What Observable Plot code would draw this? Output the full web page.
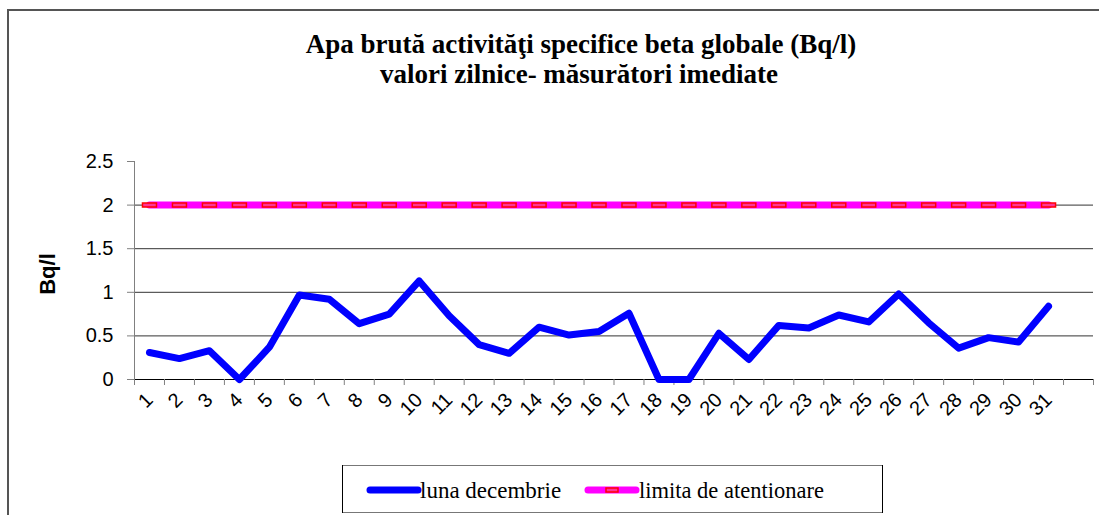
<!DOCTYPE html>
<html><head><meta charset="utf-8">
<script src="https://cdn.jsdelivr.net/npm/d3@7"></script>
<script src="https://cdn.jsdelivr.net/npm/@observablehq/plot@0.6"></script>
<style>
body{margin:0;background:#fff;}
#wrap{position:relative;width:1099px;height:515px;overflow:hidden;background:#fff;}
#chart{position:absolute;left:0;top:0;}
#chart svg text{font-family:"Liberation Sans",Arial,sans-serif;font-size:20px;}
#over{position:absolute;left:0;top:0;pointer-events:none;}
.serif{font-family:"Liberation Serif","Times New Roman",serif;}
.sans{font-family:"Liberation Sans",Arial,sans-serif;}
</style></head><body>
<div id="wrap"><div id="chart"></div>
<svg id="over" width="1099" height="515" xmlns="http://www.w3.org/2000/svg">
  <path d="M8,600 L8,10 L1200,10" fill="none" stroke="#555" stroke-width="2"/>
  <text class="serif" x="581" y="53" text-anchor="middle" font-weight="bold" font-size="27">Apa brută activităţi specifice beta globale (Bq/l)</text>
  <text class="serif" x="579" y="83" text-anchor="middle" font-weight="bold" font-size="27">valori zilnice- măsurători imediate</text>
  <text class="sans" transform="translate(55,274) rotate(-90)" text-anchor="middle" font-weight="bold" font-size="22">Bq/l</text>
  <rect x="342.5" y="465.5" width="540" height="47" fill="#fff" stroke="#777"/>
  <line x1="342.5" y1="465" x2="342.5" y2="513" stroke="#000"/>
  <line x1="882.5" y1="465" x2="882.5" y2="513" stroke="#000"/>
  <line x1="370" y1="490" x2="418" y2="490" stroke="#0000ff" stroke-width="7" stroke-linecap="round"/>
  <text class="serif" x="420" y="498" font-size="23">luna decembrie</text>
  <line x1="588" y1="490" x2="636" y2="490" stroke="#ff00ff" stroke-width="7" stroke-linecap="round"/>
  <rect x="606" y="488" width="12" height="4" fill="#ff3399" stroke="#ff0000" stroke-width="1.5"/>
  <text class="serif" x="639" y="498" font-size="22.5">limita de atentionare</text>
</svg>
</div>
<script>
const days = [1,2,3,4,5,6,7,8,9,10,11,12,13,14,15,16,17,18,19,20,21,22,23,24,25,26,27,28,29,30,31];
const values = [0.31,0.24,0.33,0.0,0.37,0.97,0.92,0.64,0.75,1.13,0.73,0.40,0.30,0.60,0.51,0.55,0.76,0.0,0.0,0.53,0.23,0.62,0.59,0.74,0.66,0.98,0.65,0.36,0.48,0.43,0.84];
const limit = [2,2,2,2,2,2,2,2,2,2,2,2,2,2,2,2,2,2,2,2,2,2,2,2,2,2,2,2,2,2,2];
const yTicks = [0,0.5,1,1.5,2,2.5];
const gridTicks = [0.5,1,1.5,2];

const dataMain = days.map((d,i)=>({day:d, v:values[i]}));
const dataLim = days.map((d,i)=>({day:d, v:limit[i]}));
const boundaries = days.map(d=>d-0.5).concat([31.5,32.5]);
const marker = {draw(ctx){ ctx.rect(-7,-2,14,4); }};

const plot = Plot.plot({
  width:1099, height:515, marginLeft:134, marginRight:6, marginTop:161, marginBottom:136,
  x:{domain:[0.5,32.5]}, y:{domain:[0,2.5]},
  style:{fontFamily:"Liberation Sans", fontSize:"20px", color:"#000", background:"transparent"},
  marks:[
    Plot.gridY(gridTicks, {stroke:"#333", strokeOpacity:1}),
    Plot.axisY(yTicks, {tickSize:7, tickPadding:14, stroke:"#808080", label:null, tickFormat:d=>String(d)}),
    Plot.ruleX([0.5], {stroke:"#808080"}),
    Plot.ruleY([0], {stroke:"#000"}),
    Plot.axisX(boundaries, {tickSize:6, stroke:"#808080", tickFormat:()=>"", label:null}),
    Plot.axisX(days, {tickSize:0, tickRotate:-45, tickPadding:17, label:null, tickFormat:d=>String(d)}),
    Plot.line(dataLim, {x:"day", y:"v", stroke:"#ff00ff", strokeWidth:7, strokeLinecap:"round"}),
    Plot.dot(dataLim, {x:"day", y:"v", symbol:marker, stroke:"#ff0000", fill:"#ff3399", strokeWidth:1.5, r:3}),
    Plot.line(dataMain, {x:"day", y:"v", stroke:"#0000ff", strokeWidth:7, strokeLinecap:"round", strokeLinejoin:"round"})
  ]
});
document.getElementById("chart").appendChild(plot);
</script>
</body></html>
